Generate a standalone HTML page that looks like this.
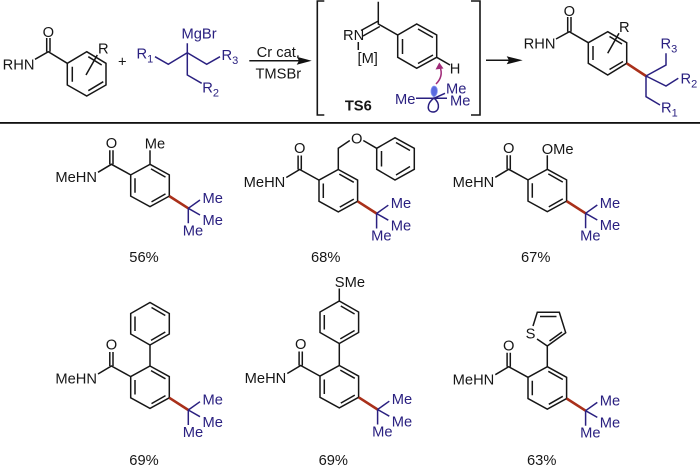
<!DOCTYPE html>
<html>
<head>
<meta charset="utf-8">
<style>
html,body{margin:0;padding:0;background:#fff}
svg{display:block}
text{font-family:"Liberation Sans",sans-serif;font-size:14.7px;fill:#161616}
.b text,text.b{fill:#2a2080}
.k{stroke:#161616;stroke-width:1.5;fill:none}
.u{stroke:#2a2080;stroke-width:1.5;fill:none}
.r{stroke:#a9301a;stroke-width:2.6;fill:none}
.s{font-size:11px}
</style>
</head>
<body>
<svg width="700" height="465" viewBox="0 0 700 465" xmlns="http://www.w3.org/2000/svg">
<defs>
<g id="amide">
<path class="k" d="M0 0L19.3 10.6V31.8L0 42.4L-19.3 31.8V10.6Z"/>
<path class="k" d="M1 4.6L15.5 12.8M15.5 29.6L1.5 37.6M-15 14V28.5"/>
<path class="k" d="M-19.3 10.6L-38.6 0L-52 8M-40.2 0V-14M-37 0V-14"/>
<path class="r" d="M19.3 31.8L38.3 44"/>
<path class="u" d="M38.3 44L50 35.7M38.3 44L50 50.7M38.3 44V59"/>
</g>
<g id="ph">
<path class="k" d="M0 0L19.3 -11V-31.5L0 -42.5L-19.3 -31.5V-11Z"/>
<path class="k" d="M1 -4.6L15.3 -13M15.3 -29.5L1.5 -37.5M-15 -14V-28.5"/>
</g>
</defs>

<!-- top reactant -->
<path class="k" d="M86.7 51.7L106 63.3V85L86.7 96L67.3 85V63.3ZM72.3 66.7V81.7M88.3 90.7L103.3 81.7M88.3 56.7L101.7 65"/>
<path class="k" d="M67.3 63.3L48.3 51.7L35 59.3M46.7 51.7V38M50 51.7V38M86 75L97.3 55"/>
<text x="48.3" y="37" text-anchor="middle">O</text>
<text x="34.5" y="69.5" text-anchor="end">RHN</text>
<text x="103.3" y="53.5" text-anchor="middle">R</text>
<text x="122.3" y="66.5" text-anchor="middle">+</text>

<path class="u" d="M187.3 43.3V75L201.7 83.3M155 56.7L168.3 64.3L187.3 52.7L206.7 64.3L220 56.7"/>
<g class="b">
<text x="181.5" y="38.5">MgBr</text>
<text x="136.5" y="58.5">R<tspan class="s" dy="4">1</tspan></text>
<text x="221.5" y="60">R<tspan class="s" dy="4">3</tspan></text>
<text x="202.3" y="92.5">R<tspan class="s" dy="4">2</tspan></text>
</g>

<!-- arrow 1 -->
<path class="k" d="M249.3 60.7H300"/>
<path d="M311.7 60.7L296.7 56.7L299 60.7L296.7 64.7Z" fill="#111"/>
<text x="278.3" y="57" text-anchor="middle">Cr cat.</text>
<text x="278.3" y="78.5" text-anchor="middle">TMSBr</text>

<!-- brackets -->
<path class="k" style="stroke-width:1.6" d="M324.3 1H317.3V115H324.3M471 1H480V115H471"/>

<!-- TS -->
<path class="k" d="M378.3 1.7V24L397.7 35L416.7 24L436.7 35V57.3L416.7 68.3L397.7 57.3V35M378.3 21L361 30.5M379.8 26.5L363 36M358.3 42V50M436.7 57.3L450 65"/>
<path class="k" d="M402.5 39V54M418 29L433 37.5M433 55L418 63.5"/>
<text x="343" y="40">RN</text>
<text x="367.7" y="63" text-anchor="middle">[M]</text>
<text x="455" y="73.7" text-anchor="middle">H</text>
<text x="358.3" y="110.5" text-anchor="middle" font-weight="bold">TS6</text>
<path d="M434 97C429 94 431 86 434 86C438 86 439 94 434 97Z" fill="#5a6ae0" stroke="#8a9af0" stroke-width=".8"/>
<path class="u" d="M434 98C426 104 427 112 433 112C439 112 441 104 434 98ZM416 98.3H447M434 98.3L445 93.3"/>
<g class="b">
<text x="395" y="104">Me</text>
<text x="446" y="93.5">Me</text>
<text x="450" y="105.5">Me</text>
</g>
<path d="M436 84C442 78 442 72 440 67" stroke="#a02a78" stroke-width="1.5" fill="none"/>
<path d="M439.3 62.5L435.5 69.5L443.5 68.5Z" fill="#a02a78"/>

<!-- arrow 2 -->
<path class="k" d="M486 60.3H512"/>
<path d="M522.7 60.3L506.7 56.3L509 60.3L506.7 64.3Z" fill="#111"/>

<!-- product -->
<path class="k" d="M607.7 31.7L626.7 42.7V63.3L607.7 75L588.3 63.3V42.7ZM593 46V60M609.5 69.5L623 61.5M609.5 36.5L622 44"/>
<path class="k" d="M588.3 42.7L569.3 31.7L556 39M567.7 31.7V17M571 31.7V17M607.7 53.3L619 33.3"/>
<text x="569.3" y="16" text-anchor="middle">O</text>
<text x="555.5" y="48.5" text-anchor="end">RHN</text>
<text x="624.3" y="32" text-anchor="middle">R</text>
<path class="r" d="M626.7 63.3L646 76"/>
<path class="u" d="M646 76L666 65V53.3M646 76L666 86L678.3 78.3M646 76V96.7L660 105"/>
<g class="b">
<text x="660.5" y="48.5">R<tspan class="s" dy="4">3</tspan></text>
<text x="680.5" y="83.5">R<tspan class="s" dy="4">2</tspan></text>
<text x="661" y="112.5">R<tspan class="s" dy="4">1</tspan></text>
</g>

<!-- divider -->
<rect x="0" y="122" width="700" height="1.8" fill="#111"/>

<!-- C1 -->
<g transform="translate(150 164.3)">
<use href="#amide"/>
<path class="k" d="M0 0V-14"/>
<text x="-38.6" y="-16.3" text-anchor="middle">O</text>
<text x="-53" y="17.7" text-anchor="end">MeHN</text>
<text x="5" y="-16" text-anchor="middle">Me</text>
<g class="b">
<text x="62.7" y="38.6" text-anchor="middle">Me</text>
<text x="62.7" y="60.9" text-anchor="middle">Me</text>
<text x="43" y="71" text-anchor="middle">Me</text>
</g>
</g>
<text x="144" y="262" text-anchor="middle">56%</text>

<!-- C2 -->
<g transform="translate(338.3 169.5)">
<use href="#amide"/>
<path class="k" d="M0 0V-21.2L11.5 -29M25 -29L38.4 -21.2"/>
<text x="-38.6" y="-16.3" text-anchor="middle">O</text>
<text x="-53" y="17.7" text-anchor="end">MeHN</text>
<text x="18.4" y="-26" text-anchor="middle">O</text>
<g class="b">
<text x="62.7" y="38.6" text-anchor="middle">Me</text>
<text x="62.7" y="60.9" text-anchor="middle">Me</text>
<text x="43" y="71" text-anchor="middle">Me</text>
</g>
</g>
<path class="k" d="M376.7 148.3L395 137.7L414.3 148.3V169.3L395 180L376.7 169.3ZM381.5 151V166.5M396 142.5L410 150.5M410 166.5L396 175"/>
<text x="325.7" y="262" text-anchor="middle">68%</text>

<!-- C3 -->
<g transform="translate(547.3 169.3)">
<use href="#amide"/>
<path class="k" d="M0 0V-14"/>
<text x="-38.6" y="-16.3" text-anchor="middle">O</text>
<text x="-53" y="17.7" text-anchor="end">MeHN</text>
<text x="-5.6" y="-15.3">OMe</text>
<g class="b">
<text x="62.7" y="38.6" text-anchor="middle">Me</text>
<text x="62.7" y="60.9" text-anchor="middle">Me</text>
<text x="43" y="71" text-anchor="middle">Me</text>
</g>
</g>
<text x="535.7" y="262" text-anchor="middle">67%</text>

<!-- C4 -->
<g transform="translate(150 366)">
<use href="#amide"/>
<path class="k" d="M0 0V-21"/>
<use href="#ph" transform="translate(0 -21)"/>
<text x="-38.6" y="-16.3" text-anchor="middle">O</text>
<text x="-53" y="17.7" text-anchor="end">MeHN</text>
<g class="b">
<text x="62.7" y="38.6" text-anchor="middle">Me</text>
<text x="62.7" y="60.9" text-anchor="middle">Me</text>
<text x="43" y="71" text-anchor="middle">Me</text>
</g>
</g>
<text x="144" y="465" text-anchor="middle">69%</text>

<!-- C5 -->
<g transform="translate(339.3 365.5)">
<use href="#amide"/>
<path class="k" d="M0 0V-22"/>
<use href="#ph" transform="translate(0 -22)"/>
<path class="k" d="M0 -63.5V-77"/>
<text x="-38.6" y="-16.3" text-anchor="middle">O</text>
<text x="-53" y="17.7" text-anchor="end">MeHN</text>
<text x="-4.5" y="-78.5">SMe</text>
<g class="b">
<text x="62.7" y="38.6" text-anchor="middle">Me</text>
<text x="62.7" y="60.9" text-anchor="middle">Me</text>
<text x="43" y="71" text-anchor="middle">Me</text>
</g>
</g>
<text x="333.3" y="465" text-anchor="middle">69%</text>

<!-- C6 -->
<g transform="translate(547.3 366.7)">
<use href="#amide"/>
<path class="k" d="M0 0V-20.7"/>
<text x="-38.6" y="-16.3" text-anchor="middle">O</text>
<text x="-53" y="17.7" text-anchor="end">MeHN</text>
<g class="b">
<text x="62.7" y="38.6" text-anchor="middle">Me</text>
<text x="62.7" y="60.9" text-anchor="middle">Me</text>
<text x="43" y="71" text-anchor="middle">Me</text>
</g>
</g>
<path class="k" d="M547.3 346L565.7 332.7L559.3 312.3H537.3L533 326M537 339L547.3 346M549.5 341L562 332M556.5 316.5H540"/>
<text x="530.5" y="338.5" text-anchor="middle">S</text>
<text x="541.7" y="465" text-anchor="middle">63%</text>
</svg>
</body>
</html>
